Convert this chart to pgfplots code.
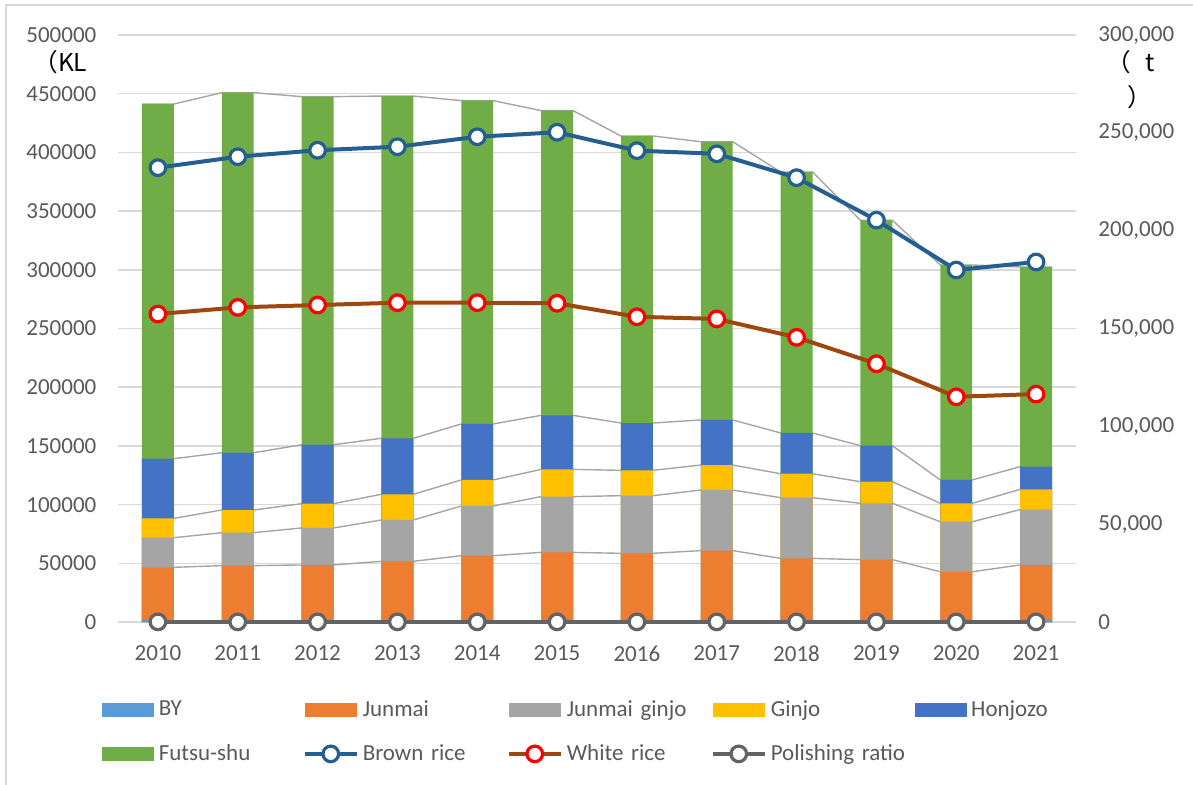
\documentclass[border=0pt]{standalone}
\usepackage{fontspec}
\setmainfont{Carlito}
\newfontfamily\jp{Noto Sans CJK JP}
\usepackage{pgfplots}
\usepackage{pgfplotstable}
\pgfplotsset{compat=1.18}

\definecolor{byc}{HTML}{5B9BD5}
\definecolor{junc}{HTML}{ED7D31}
\definecolor{jgc}{HTML}{A5A5A5}
\definecolor{ginc}{HTML}{FFC000}
\definecolor{honc}{HTML}{4472C4}
\definecolor{futc}{HTML}{70AD47}
\definecolor{brownc}{HTML}{255E91}
\definecolor{whitec}{HTML}{9E480E}
\definecolor{polc}{HTML}{636363}
\definecolor{gridc}{HTML}{D9D9D9}
\definecolor{serc}{HTML}{A5A5A5}
\definecolor{tickc}{HTML}{595959}

% production by type (KL); every year twice: left (-1) and right (+1) bar edge
\pgfplotstableread{
year side by junmai jginjo ginjo honjozo futsu
2010 -1 2010 44600 25200 16500 50800 302100
2010  1 2010 44600 25200 16500 50800 302100
2011 -1 2011 46000 28100 19300 48800 306700
2011  1 2011 46000 28100 19300 48800 306700
2012 -1 2012 46600 31500 20700 50200 296500
2012  1 2012 46600 31500 20700 50200 296500
2013 -1 2013 49700 35200 21900 47700 291500
2013  1 2013 49700 35200 21900 47700 291500
2014 -1 2014 54500 42300 22200 47700 275400
2014  1 2014 54500 42300 22200 47700 275400
2015 -1 2015 57300 47500 23200 46000 259600
2015  1 2015 57300 47500 23200 46000 259600
2016 -1 2016 56500 49100 21600 40300 244500
2016  1 2016 56500 49100 21600 40300 244500
2017 -1 2017 58800 51600 21300 38400 237000
2017  1 2017 58800 51600 21300 38400 237000
2018 -1 2018 52200 51700 20400 34700 222300
2018  1 2018 52200 51700 20400 34700 222300
2019 -1 2019 51100 48000 18400 30700 192000
2019  1 2019 51100 48000 18400 30700 192000
2020 -1 2020 40800 42600 15700 19900 183100
2020  1 2020 40800 42600 15700 19900 183100
2021 -1 2021 46600 47100 17300 19300 170100
2021  1 2021 46600 47100 17300 19300 170100
}\sake

% rice used (t)
\pgfplotstableread{
year brown white polish
2010 232200 157400 69
2011 237800 160800 69
2012 241100 162000 69
2013 242900 163200 69
2014 248000 163200 69
2015 250300 162900 69
2016 240900 156000 69
2017 239300 154900 69
2018 227100 145500 69
2019 205400 132000 69
2020 179900 115100 69
2021 184000 116500 69
}\rice

\newcommand\lblfont{\fontsize{11.5}{13.8}\selectfont}

\pgfplotsset{
  base/.style={
    scale only axis, width=479pt, height=293.5pt,
    at={(59pt,-311pt)}, anchor=south west,
    xmin=2009.5, xmax=2021.5, ymin=0,
    axis line style={draw=none},
    major tick length=0pt, tick style={draw=none},
    tick label style={font=\lblfont, text=tickc},
    scaled y ticks=false,
    /pgf/number format/fixed,
    /pgf/number format/assume math mode=true,
  },
  sbar/.style={ybar, bar width=0.4, bar shift=0pt, draw=none, fill=#1,
    restrict expr to domain={\thisrow{side}}{0:2}},
  sline/.style={serc, line width=0.7pt},
  rline/.style 2 args={line width=2pt, color=#1, mark=*, mark size=3.9pt,
    mark options={fill=white, draw=#2, line width=1.6pt}},
  legbar/.style={legend image code/.code={
    \fill[##1, draw=none] (0pt,-3.5pt) rectangle (26pt,3.5pt); \path (26pt,0pt);}},
  legline/.style={legend image code/.code={
    \draw[mark repeat=2, mark phase=2, ##1] plot coordinates {(0pt,0pt) (13pt,0pt) (26pt,0pt)};
    \path (26pt,0pt);}},
}

\begin{document}
\begin{tikzpicture}
\useasboundingbox (0pt,0pt) rectangle (596.5pt,-392pt);
\draw[gridc, line width=0.75pt] (3pt,-2.5pt) rectangle (620pt,-420pt);

% left axis: stacked production
\begin{axis}[base,
    ymax=500000, ytick={0,50000,...,500000},
    ymajorgrids, grid style={gridc, line width=0.75pt},
    xtick={2010,...,2021},
    ytick pos=left, yticklabel pos=left, xtick pos=bottom,
    yticklabel style={xshift=-7.3pt},
    xticklabel style={yshift=-8.4pt},
    /pgf/number format/1000 sep={},
]
% series lines between the bars
\addplot[sline] table[x expr=\thisrow{year}+0.2*\thisrow{side},
  y expr=\thisrow{by}+\thisrow{junmai}]{\sake};
\addplot[sline] table[x expr=\thisrow{year}+0.2*\thisrow{side},
  y expr=\thisrow{by}+\thisrow{junmai}+\thisrow{jginjo}]{\sake};
\addplot[sline] table[x expr=\thisrow{year}+0.2*\thisrow{side},
  y expr=\thisrow{by}+\thisrow{junmai}+\thisrow{jginjo}+\thisrow{ginjo}]{\sake};
\addplot[sline] table[x expr=\thisrow{year}+0.2*\thisrow{side},
  y expr=\thisrow{by}+\thisrow{junmai}+\thisrow{jginjo}+\thisrow{ginjo}+\thisrow{honjozo}]{\sake};
\addplot[sline] table[x expr=\thisrow{year}+0.2*\thisrow{side},
  y expr=\thisrow{by}+\thisrow{junmai}+\thisrow{jginjo}+\thisrow{ginjo}+\thisrow{honjozo}+\thisrow{futsu}]{\sake};
% bars, tallest first
\addplot[sbar=futc] table[x=year,
  y expr=\thisrow{by}+\thisrow{junmai}+\thisrow{jginjo}+\thisrow{ginjo}+\thisrow{honjozo}+\thisrow{futsu}]{\sake};
\addplot[sbar=honc] table[x=year,
  y expr=\thisrow{by}+\thisrow{junmai}+\thisrow{jginjo}+\thisrow{ginjo}+\thisrow{honjozo}]{\sake};
\addplot[sbar=ginc] table[x=year,
  y expr=\thisrow{by}+\thisrow{junmai}+\thisrow{jginjo}+\thisrow{ginjo}]{\sake};
\addplot[sbar=jgc] table[x=year,
  y expr=\thisrow{by}+\thisrow{junmai}+\thisrow{jginjo}]{\sake};
\addplot[sbar=junc] table[x=year,
  y expr=\thisrow{by}+\thisrow{junmai}]{\sake};
\addplot[sbar=byc] table[x=year, y=by]{\sake};
\end{axis}

% right axis: rice
\begin{axis}[base,
    ymax=300000, ytick={0,50000,...,300000},
    hide x axis,
    ytick pos=right, yticklabel pos=right,
    yticklabel style={xshift=7.7pt},
    /pgf/number format/1000 sep={,},
    clip=false,
    legend columns=5,
    legend cell align=left,
    legend style={draw=none, fill=none, font=\lblfont, text=tickc,
      at={(-0.023,-0.1195)}, anchor=north west,
      row sep=8.5pt,
      /tikz/every even column/.append style={text width=70pt, inner xsep=0pt}},
]
\addlegendimage{legbar, fill=byc}
\addlegendentry{BY}
\addlegendimage{legbar, fill=junc}
\addlegendentry{Junmai}
\addlegendimage{legbar, fill=jgc}
\addlegendentry{Junmai ginjo}
\addlegendimage{legbar, fill=ginc}
\addlegendentry{Ginjo}
\addlegendimage{legbar, fill=honc}
\addlegendentry{Honjozo}
\addlegendimage{legbar, fill=futc}
\addlegendentry{Futsu-shu}
\addlegendimage{legline, rline={brownc}{brownc}}
\addlegendentry{Brown rice}
\addlegendimage{legline, rline={whitec}{red}}
\addlegendentry{White rice}
\addlegendimage{legline, rline={polc}{polc}}
\addlegendentry{Polishing ratio}

\addplot[rline={polc}{polc}, forget plot] table[x=year, y=polish]{\rice};
\addplot[rline={whitec}{red}, forget plot] table[x=year, y=white]{\rice};
\addplot[rline={brownc}{brownc}, forget plot] table[x=year, y=brown]{\rice};
\end{axis}

% unit labels
\node[anchor=west, inner sep=0pt, font=\jp\fontsize{12.3}{14}\selectfont] at (16.5pt,-30.85pt) {（KL};
\node[anchor=west, inner sep=0pt, font=\jp\fontsize{12.3}{14}\selectfont] at (553pt,-31pt) {（\hspace{7pt}t};
\node[anchor=west, inner sep=0pt, font=\jp\fontsize{12.3}{14}\selectfont] at (563.5pt,-48.35pt) {）};
\end{tikzpicture}
\end{document}
